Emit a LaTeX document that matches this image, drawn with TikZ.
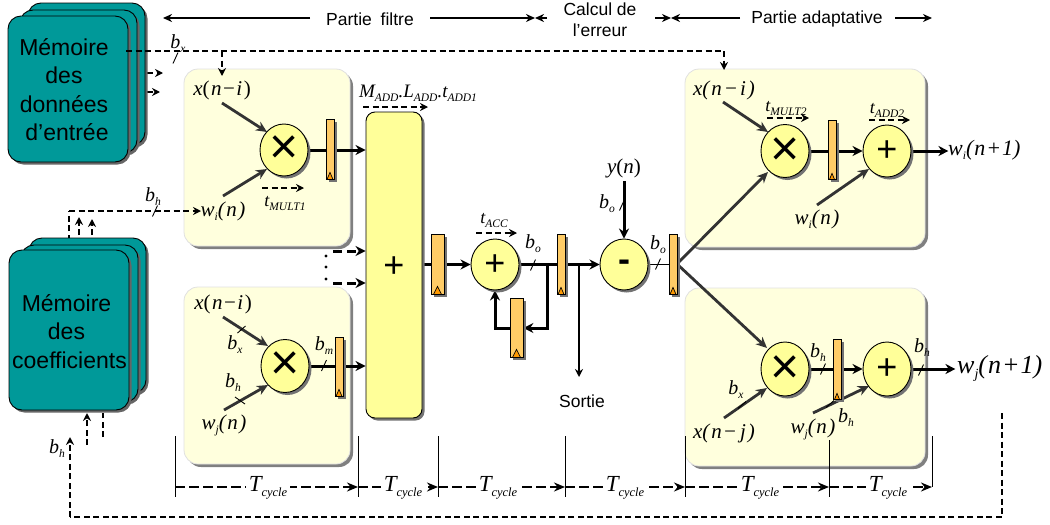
\documentclass[tikz,border=0pt]{standalone}
\usepackage{fontspec}
\setmainfont{Liberation Sans}
\newfontfamily\tm{Liberation Serif}
\usetikzlibrary{arrows.meta,shapes.geometric,shadows,calc}
\pgfdeclarelayer{panel}\pgfdeclarelayer{lines}\pgfdeclarelayer{top}
\pgfsetlayers{panel,lines,main,top}
\newcommand\fs[1]{\fontsize{#1}{#1}\selectfont}
\newcommand\sbs[1]{\raisebox{-4pt}{\fs{11.5}\itshape #1}}
\newcommand\sbc[1]{\raisebox{-5pt}{\fs{12.5}\itshape #1}}
\newcommand\sbb[1]{\raisebox{-5pt}{\fs{14}\itshape #1}}
\newcommand\varb[2]{{\itshape #1}\sbs{#2}}
\newcommand\xni{{\itshape x}(\kern1.5pt{\itshape n}\kern1.5pt−\kern1.5pt{\itshape i}\kern1.5pt)}
\newcommand\xnit{{\itshape x(\kern2pt n\kern2pt−\kern2pt i\kern2pt)}}
\newcommand\xnjt{{\itshape x(\kern2pt n\kern1pt−\kern3pt j\kern2pt)}}
\newcommand\wn[1]{{\itshape w}\sbs{#1}{\itshape (\kern1.5pt n\kern1.5pt)}}
\newcommand\clk[3]{\draw[fill=orange!80!yellow,line width=.7pt] ($(#1.south)+(-#2,0)$) -- ($(#1.south)+(0,-#3)$) -- ($(#1.south)+(#2,0)$) -- cycle;}
\newcommand\slashat[2]{\draw[slashmark] (#1+2.5,#2-5.5) -- (#1-2.5,#2+5.5);}
\newcommand\slashup[2]{\draw[slashmark] (#1+4,#2-3.5) -- (#1-4,#2+3.5);}
\newcommand\slashdn[2]{\draw[slashmark] (#1-5,#2-3.5) -- (#1+5,#2+3.5);}
\tikzset{
  x=1pt,y=-1pt,
  mem/.style={rectangle,rounded corners=13pt,draw=black,line width=.9pt,fill=memcol,inner sep=0pt,
     general shadow={fill=black!60,shadow xshift=2.5pt,shadow yshift=-2.5pt}},
  memtext/.style={align=center,font=\fs{23},inner sep=0pt},
  pan/.style={rectangle,rounded corners=14pt,draw=black!12,line width=.8pt,fill=panelcol,inner sep=0pt,
     general shadow={fill=black!50,shadow xshift=3pt,shadow yshift=-3pt}},
  opc/.style={ellipse,draw=black,line width=.9pt,fill=opcol,inner sep=0pt,
     general shadow={fill=black!55,shadow xshift=2.5pt,shadow yshift=-2.5pt}},
  reg/.style={rectangle,draw=black,line width=.8pt,fill=regcol,inner sep=0pt,
     general shadow={fill=black!55,shadow xshift=3pt,shadow yshift=-3pt}},
  plainlbl/.style={font=\fs{17.5},inner sep=0pt,align=center},
  lbl/.style={font=\fs{21}\tm,inner sep=0pt},
  bit/.style={font=\fs{20}\tm\itshape,inner sep=0pt},
  tml/.style={font=\fs{18}\tm\itshape,inner sep=0pt},
  tcy/.style={font=\fs{23}\tm\itshape,inner sep=3pt,fill=white},
  sym/.style={font=\fs{36},inner sep=0pt},
  tim/.style={font=\fs{50},inner sep=0pt},
  wire/.style={line width=3pt,-{Stealth[length=10pt,width=10pt]}},
  plain wire/.style={line width=3pt},
  diag/.style={line width=2.8pt,draw=black!80,-{Stealth[length=11pt,width=10pt]}},
  dashw/.style={line width=2.2pt,dash pattern=on 6pt off 3.5pt},
  dasha/.style={dashw,-{Stealth[length=8pt,width=8pt]}},
  dashb/.style={line width=3pt,dash pattern=on 9pt off 5pt,-{Stealth[length=10pt,width=10pt]}},
  thina/.style={line width=1.8pt,-{Stealth[length=9pt,width=8pt]}},
  ticky/.style={line width=1pt},
  slashmark/.style={line width=.9pt},
  tline/.style={line width=2.1pt,dash pattern=on 10pt off 4pt,-{Stealth[length=11pt,width=9pt]}},
}
\definecolor{memcol}{HTML}{009999}
\definecolor{panelcol}{HTML}{FFFFDD}
\definecolor{opcol}{HTML}{FFFF99}
\definecolor{regcol}{HTML}{FFCC66}
\begin{document}
\begin{tikzpicture}
\useasboundingbox (0,0) rectangle (1050,525);
% ---------- panels
\begin{pgfonlayer}{panel}
\node[pan,minimum width=166pt,minimum height=177pt] (p1) at (267,157.5) {};
\node[pan,minimum width=166pt,minimum height=177pt] (p2) at (267,375.5) {};
\node[pan,minimum width=240pt,minimum height=178pt] (p3) at (805,158) {};
\node[pan,minimum width=240pt,minimum height=178pt] (p4) at (805,377) {};
\end{pgfonlayer}
% ---------- memories
\node[mem,minimum width=117pt,minimum height=142pt] (m1c) at (86.5,74) {};
\node[mem,minimum width=117pt,minimum height=143pt] (m1b) at (78.5,81.5) {};
\node[mem,minimum width=120pt,minimum height=146pt] (m1a) at (68,89) {};
\node[memtext] (m1t) at (64,89.5) {Mémoire\\[5.5pt]des\\[5.5pt]données\\[5.5pt]\kern6pt d’entrée};
\node[mem,minimum width=117pt,minimum height=155pt] (m2c) at (87.5,315.5) {};
\node[mem,minimum width=117pt,minimum height=157pt] (m2b) at (79.5,323.5) {};
\node[mem,minimum width=120pt,minimum height=160pt] (m2a) at (69,330) {};
\node[memtext] (m2t) at (69.5,331.5) {\kern-6pt Mémoire\\[5.5pt]\kern-6pt des\\[5.5pt]coefficients};
% ---------- operators
\node[opc,minimum width=48pt,minimum height=52pt] (o1) at (284,150) {};
\node[opc,minimum width=48pt,minimum height=53pt] (o2) at (285,366) {};
\node[opc,minimum width=48pt,minimum height=51pt] (o3) at (495,264.5) {};
\node[opc,minimum width=48pt,minimum height=51pt] (o4) at (624,264.5) {};
\node[opc,minimum width=48pt,minimum height=53pt] (o5) at (785,151) {};
\node[opc,minimum width=48pt,minimum height=52pt] (o6) at (887,151) {};
\node[opc,minimum width=48pt,minimum height=54pt] (o7) at (785,369) {};
\node[opc,minimum width=48pt,minimum height=54pt] (o8) at (887,369) {};
\node[rectangle,rounded corners=9pt,draw=black,line width=.9pt,fill=opcol,inner sep=0pt,minimum width=56pt,minimum height=306pt,
  general shadow={fill=black!55,shadow xshift=2.5pt,shadow yshift=-2.5pt}] (add) at (394,265) {};
\node[tim] (s1) at (284,150) {×};
\node[tim] (s2) at (285,366) {×};
\node[sym] (s3) at (394,267) {+};
\node[sym] (s4) at (495,265) {+};
\node[sym] (s5) at (624,266) {\bfseries -};
\node[tim] (s6) at (785,152) {×};
\node[sym] (s7) at (887,151) {+};
\node[tim] (s8) at (785,370) {×};
\node[sym] (s9) at (887,369) {+};
% ---------- registers
\node[reg,minimum width=8pt,minimum height=60pt] (r1) at (330,149) {};
\node[reg,minimum width=8pt,minimum height=59pt] (r2) at (339,366.5) {};
\node[reg,minimum width=13pt,minimum height=60pt] (r3) at (437.5,264) {};
\node[reg,minimum width=13pt,minimum height=59pt] (r4) at (516.5,327.5) {};
\node[reg,minimum width=8pt,minimum height=60pt] (r5) at (561,264) {};
\node[reg,minimum width=8pt,minimum height=60pt] (r6) at (673,264) {};
\node[reg,minimum width=8pt,minimum height=59pt] (r7) at (832,149.5) {};
\node[reg,minimum width=8pt,minimum height=60pt] (r8) at (837,369) {};
\clk{r1}{3}{7}\clk{r2}{3}{7}\clk{r3}{4}{8}\clk{r4}{4}{8}\clk{r5}{3}{7}\clk{r6}{3}{7}\clk{r7}{2.5}{6}\clk{r8}{2.5}{6}
% ---------- free ends
\coordinate (a1) at (222,103); \coordinate (a2) at (223,196);
\coordinate (a3) at (223,317); \coordinate (a4) at (224,410);
\coordinate (a5) at (723,102); \coordinate (a6) at (817,205);
\coordinate (a7) at (724,418); \coordinate (a8) at (813,413);
\coordinate (d1) at (333,251); \coordinate (d2) at (333,283);
\coordinate (d3) at (126,51); \coordinate (d4) at (222,51); \coordinate (d5) at (724,51); \coordinate (d6) at (724,70);
\coordinate (d7) at (222,76);
\coordinate (e1) at (69,250); \coordinate (e2) at (69,211); \coordinate (e3) at (201,211);
\coordinate (e4) at (79,235); \coordinate (e5) at (79,217); \coordinate (e6) at (92,235); \coordinate (e7) at (92,219);
\coordinate (f1) at (1002,413); \coordinate (f2) at (1002,517); \coordinate (f3) at (70,517); \coordinate (f4) at (70,437);
\coordinate (f5) at (87,445); \coordinate (f6) at (87,413); \coordinate (f7) at (103,437); \coordinate (f8) at (103,413);
\coordinate (g1) at (147,73); \coordinate (g2) at (163,73); \coordinate (g3) at (147,92); \coordinate (g4) at (160,92);
\coordinate (j1) at (547,264.5); \coordinate (j2) at (547,328); \coordinate (j3) at (495,328); \coordinate (j4) at (579,264.5); \coordinate (j5) at (579,377);
\coordinate (k1) at (624,181);
\coordinate (o5in) at (768,172); \coordinate (o7in) at (767,348);
\coordinate (o1a) at (267,132); \coordinate (o1b) at (267,169);
\coordinate (o2a) at (268,346); \coordinate (o2b) at (268,385);
\coordinate (o5a) at (768,132); \coordinate (o6b) at (869,169);
\coordinate (o7b) at (767,388); \coordinate (o8b) at (869,386);
\coordinate (r6j) at (677,264);
% ---------- time arrows
\coordinate (h1) at (262,188); \coordinate (h2) at (304,188);
\coordinate (h3) at (363,107); \coordinate (h4) at (428,107);
\coordinate (h5) at (476,233); \coordinate (h6) at (517,233);
\coordinate (h7) at (767,118); \coordinate (h8) at (809,118);
\coordinate (h9) at (869,120); \coordinate (h10) at (910,120);
% ---------- ticks of the cycle scale
\foreach \n/\xx/\ya/\yb in {t0/175/436/497,t1/358/436/497,t2/438/436/497,t3/565/436/497,t4/685/436/497,t5/829/436/497,t6/932/436/487}{
  \coordinate (\n a) at (\xx,\ya); \coordinate (\n b) at (\xx,\yb); \coordinate (\n m) at (\xx,487);}
\begin{pgfonlayer}{lines}
\draw[diag] (a1) -- (o1a);
\draw[diag] (a2) -- (o1b);
\draw[diag] (a3) -- (o2a);
\draw[diag] (a4) -- (o2b);
\draw[diag] (a5) -- (o5a);
\draw[diag] (a6) -- (o6b);
\draw[diag] (a7) -- (o7b);
\draw[diag] (a8) -- (o8b);
\draw[diag] (r6j) -- (o5in);
\draw[diag] (r6j) -- (o7in);
\draw[plain wire] (o1.east) -- (r1.center |- o1.east);
\draw[wire] (r1.center |- o1.east) -- (add.west |- o1.east);
\draw[plain wire] (o2.east) -- (r2.center |- o2.east);
\draw[wire] (r2.center |- o2.east) -- (add.west |- o2.east);
\draw[dashb] (d1) -- (add.west |- d1);
\draw[dashb] (d2) -- (add.west |- d2);
\draw[plain wire] (add.east |- r3.west) -- (r3.west);
\draw[wire] (r3.east |- o3.west) -- (o3.west);
\draw[plain wire] (o3.east) -- (r5.center |- o3.east);
\draw[wire] (j1) -- (j2) -- (r4.east |- j2);
\draw[wire] (r4.west |- j3) -- (j3) -- (o3.south);
\draw[wire] (r5.center |- o4.west) -- (o4.west);
\draw[line width=2.6pt,-{Stealth[length=8pt,width=8pt]}] (j4) -- (j5);
\draw[wire] (k1) -- (o4.north);
\draw[line width=1.6pt] (o4.east) -- (r6.west |- o4.east);
\draw[plain wire] (o5.east) -- (r7.center |- o5.east);
\draw[wire] (r7.center |- o6.west) -- (o6.west);
\draw[wire] (o6.east) -- ++(37,0) coordinate (w1end);
\draw[plain wire] (o7.east) -- (r8.center |- o7.east);
\draw[wire] (r8.center |- o8.west) -- (o8.west);
\draw[wire] (o8.east) -- ++(44,0) coordinate (w2end);
\draw[dashw] (e1) -- (e2);
\draw[dashw] (f1) -- (f2) -- (f3);
\draw[dasha] (f3) -- (f4);
\draw[dasha] (f5) -- (f6);
\draw[dashw] (f7) -- (f8);
\draw[dasha] (e4) -- (e5);
\draw[dasha] (e6) -- (e7);
\draw[dasha] (g1) -- (g2);
\draw[dasha] (g3) -- (g4);
\draw[dasha] (h1) -- (h2);
\draw[dasha] (h3) -- (h4);
\draw[dasha] (h5) -- (h6);
\draw[dasha] (h7) -- (h8);
\draw[dasha] (h9) -- (h10);
\foreach \n in {t0,t1,t2,t3,t4,t5,t6}{\draw[ticky] (\n a) -- (\n b);}
\draw[tline] (t0m) -- (t1m);
\draw[tline] (t1m) -- (t2m);
\draw[tline] (t2m) -- (t3m);
\draw[tline] (t3m) -- (t4m);
\draw[tline] (t4m) -- (t5m);
\draw[tline] (t5m) -- (t6m);
\end{pgfonlayer}
\begin{pgfonlayer}{top}
\draw[dashw] (d3) -- (d5);
\draw[dasha] (d5) -- (d6);
\draw[dasha] (d4) -- (d7);
\draw[dasha] (e2) -- (e3);
\fill (326,256) circle (1.7pt) (326,267) circle (1.7pt) (326,279) circle (1.7pt);
\slashat{175.5}{58}
\slashat{155}{211}
\slashup{241.5}{329.5}
\slashdn{240}{400.5}
\slashat{324}{365.5}
\slashat{533}{265}
\slashat{622}{205}
\slashat{658}{264}
\slashup{742}{405}
\slashat{823}{369}
\slashat{921}{370}
\slashup{830}{404}
\end{pgfonlayer}
% ---------- header
\node[plainlbl] (hd1) at (370,19) {Partie\kern4pt\ filtre};
\node[plainlbl] (hd2) at (600,19.5) {Calcul de\\[4pt]l’erreur};
\node[plainlbl] (hd3) at (817,19) {Partie adaptative};
\node[plainlbl] (sortie) at (582,401) {Sortie};
\coordinate (i1) at (163,18); \coordinate (i2) at (535,18); \coordinate (i3) at (547,18);
\coordinate (i4) at (655,18); \coordinate (i5) at (671,18); \coordinate (i6) at (932,18);
\coordinate (i7) at (310,18); \coordinate (i8) at (430,18); \coordinate (i9) at (740,18); \coordinate (i10) at (895,18);
\draw[thina] (i7) -- (i1);
\draw[thina] (i8) -- (i2);
\draw[thina] (i3) -- (i2);
\draw[thina] (i4) -- (i5);
\draw[thina] (i9) -- (i5);
\draw[thina] (i10) -- (i6);
% ---------- labels
\node[lbl] (l1) at (222,90) {\xni};
\node[lbl] (l2) at (223,211) {\wn{i}};
\node[lbl] (l3) at (223,304) {\xni};
\node[lbl] (l4) at (224,425) {\wn{j}};
\node[lbl] (l5) at (724,90) {\xnit};
\node[lbl] (l6) at (817,219) {\wn{i}};
\node[lbl] (l7) at (724,433) {\xnjt};
\node[lbl,fill=panelcol] (l8) at (813,429) {\wn{j}};
\node[lbl] (l9) at (624,168) {{\itshape y}({\itshape n})};
\node[lbl,font=\fs{22}\tm\itshape,anchor=west] (l10) at (948,150) {w\sbs{i}(\kern1pt n\kern1pt+\kern1pt 1)};
\node[lbl,font=\fs{26}\tm\itshape,anchor=west] (l11) at (957,368) {w\sbb{j}(\kern1pt n\kern1pt+\kern1pt 1)};
\node[bit] (b1) at (178,44) {\varb{b}{x}};
\node[bit] (b2) at (153,197) {\varb{b}{h}};
\node[bit] (b3) at (57,449) {\varb{b}{h}};
\node[bit] (b4) at (235,345) {\varb{b}{x}};
\node[bit] (b5) at (233,383) {\varb{b}{h}};
\node[bit] (b6) at (324,346) {\varb{b}{m}};
\node[bit] (b7) at (533,244) {\varb{b}{o}};
\node[bit] (b8) at (607,204) {\varb{b}{o}};
\node[bit] (b9) at (658,245) {\varb{b}{o}};
\node[bit] (b10) at (736,390) {\varb{b}{x}};
\node[bit] (b11) at (818,353) {\varb{b}{h}};
\node[bit] (b12) at (846,418) {\varb{b}{h}};
\node[bit] (b13) at (922,348) {\varb{b}{h}};
\node[tml] (c1) at (285,203) {{t}\sbs{MULT1}};
\node[tml,font=\fs{19}\tm\itshape] (c2) at (418,93) {M\sbs{ADD}.L\sbs{ADD}.t\sbs{ADD1}};
\node[tml] (c3) at (494,220) {t\sbs{ACC}};
\node[tml] (c4) at (786,108) {t\sbs{MULT2}};
\node[tml] (c5) at (887,110) {t\sbs{ADD2}};
\foreach \n/\xx in {1/268,2/403,3/498,4/625,5/760,6/888}{
  \node[tcy] (tc\n) at (\xx,488) {T\sbc{cycle}};}
\end{tikzpicture}
\end{document}
